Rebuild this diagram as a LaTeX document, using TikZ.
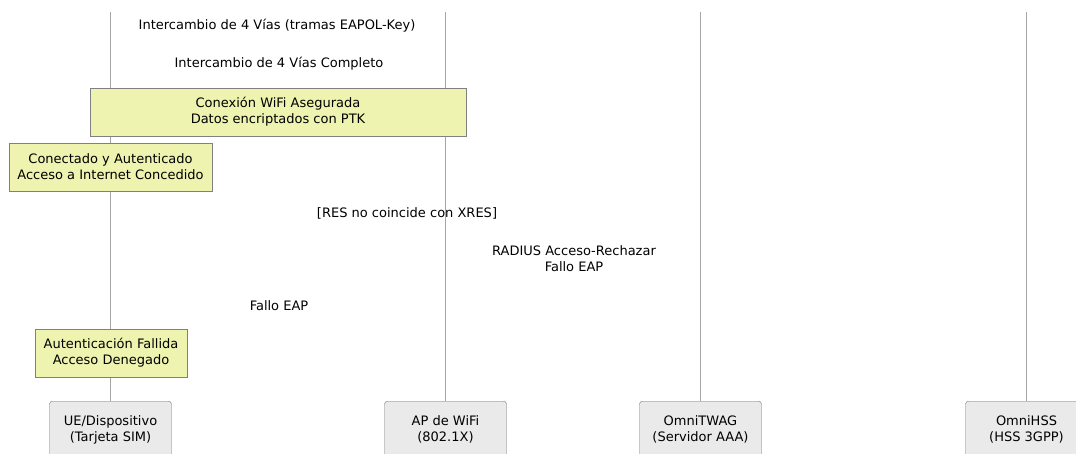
\documentclass[tikz,border=0pt]{standalone}
\usepackage{fontspec}
\setmainfont{DejaVu Sans}
\usetikzlibrary{positioning}
\definecolor{notefill}{HTML}{EEF3B0}
\definecolor{actorfill}{HTML}{EAEAEA}
\begin{document}
\begin{tikzpicture}[x=1pt,y=-1pt]
\tikzset{every node/.style={font=\fontsize{13}{16}\selectfont,align=center,inner sep=0pt}}
\tikzset{actorbox/.style={draw=black!55,fill=actorfill,rounded corners=3pt,minimum width=122pt,minimum height=57pt,anchor=north}}
\tikzset{notebox/.style={draw=black!50,fill=notefill,minimum height=48pt}}
\tikzset{lifeline/.style={draw=black!35,line width=0.9pt}}
\useasboundingbox (0,0) rectangle (1076,453);
\clip (0,0) rectangle (1076,453);
% participants
\node[actorbox] (ue) at (110.5,401) {UE/Dispositivo\\(Tarjeta SIM)};
\node[actorbox] (ap) at (445.5,401) {AP de WiFi\\(802.1X)};
\node[actorbox] (twag) at (700.5,401) {OmniTWAG\\(Servidor AAA)};
\node[actorbox] (hss) at (1026.5,401) {OmniHSS\\(HSS 3GPP)};
% lifelines
\coordinate (ueTop) at (110.5,12);
\coordinate (apTop) at (445.5,12);
\coordinate (twagTop) at (700.5,12);
\coordinate (hssTop) at (1026.5,12);
\draw[lifeline] (ueTop) -- (ue.north);
\draw[lifeline] (apTop) -- (ap.north);
\draw[lifeline] (twagTop) -- (twag.north);
\draw[lifeline] (hssTop) -- (hss.north);
% messages
\node (eapolKey) at (277,26) {Intercambio de 4 Vías (tramas EAPOL-Key)};
\node (eapolDone) at (279,64) {Intercambio de 4 Vías Completo};
\node (resMismatch) at (407,213) {[RES no coincide con XRES]};
\node (radiusReject) at (574,259) {RADIUS Acceso-Rechazar\\Fallo EAP};
\node (eapFail) at (279,306) {Fallo EAP};
% notes
\node[notebox,minimum width=376pt] (wifiOk) at (278,112) {Conexión WiFi Asegurada\\Datos encriptados con PTK};
\node[notebox,minimum width=203pt] (authOk) at (110.5,167) {Conectado y Autenticado\\Acceso a Internet Concedido};
\node[notebox,minimum width=152pt] (authFail) at (111,353) {Autenticación Fallida\\Acceso Denegado};
\end{tikzpicture}
\end{document}
